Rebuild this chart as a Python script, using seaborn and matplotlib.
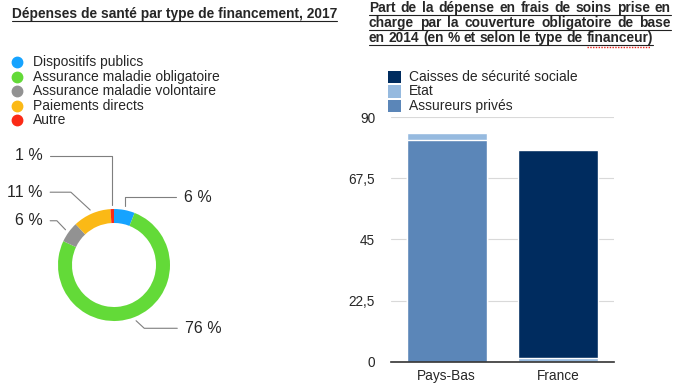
import numpy as np
import matplotlib
matplotlib.use("Agg")
import matplotlib.pyplot as plt
import seaborn as sns
from matplotlib.lines import Line2D
from matplotlib.patches import Rectangle

# --- data -------------------------------------------------------------
pie_labels = ["Dispositifs publics", "Assurance maladie obligatoire",
              "Assurance maladie volontaire", "Paiements directs", "Autre"]
pie_shares = [6, 76, 6, 11, 1]
pie_colors = ["#16A3FF", "#63DA38", "#929292", "#FBB916", "#FB2A16"]

countries = ["Pays-Bas", "France"]
financeurs = ["Caisses de sécurité sociale", "Etat", "Assureurs privés"]
caisses = [0.0, 76.5]
etat = [2.6, 1.5]
prives = [81.7, 0.0]
bar_colors = {"Caisses de sécurité sociale": "#002C5F",
              "Etat": "#96BADF",
              "Assureurs privés": "#5B86B8"}
yticks = [0, 22.5, 45, 67.5, 90]

W, H = 679, 386
sns.set_style("white")
plt.rcParams["font.family"] = ["Liberation Sans", "DejaVu Sans"]

fig = plt.figure(figsize=(W / 100, H / 100), dpi=100)


def fx(x):
    return x / W


def fy(y):
    return 1 - y / H


def underline(art, dy=2.5, **kw):
    fig.canvas.draw()
    bb = art.get_window_extent(fig.canvas.get_renderer())
    y = bb.y0 + 3 - dy
    fig.add_artist(Line2D([bb.x0 / W, bb.x1 / W], [y / H, y / H],
                          transform=fig.transFigure, **kw))


def justify(text, x0, x1, y, stretch=True, fontsize=10, **kw):
    words = text.split()
    arts = [fig.text(0, fy(y), w, fontsize=fontsize, **kw) for w in words]
    fig.canvas.draw()
    r = fig.canvas.get_renderer()
    widths = [a.get_window_extent(r).width for a in arts]
    sp = 0.278 * fontsize * 100 / 72
    gap = (x1 - x0 - sum(widths)) / (len(words) - 1) if stretch else sp
    x = x0
    for a, w in zip(arts, widths):
        a.set_x(fx(x))
        x += w + gap
    return arts, x - gap


# --- titles -------------------------------------------------------------
t1 = fig.text(fx(12), fy(18), "Dépenses de santé par type de financement, 2017",
              fontsize=9.9, fontweight="bold", va="baseline")
underline(t1, color="#222222", lw=0.8)

title_lines = ["Part de la dépense en frais de soins prise en",
               "charge par la couverture obligatoire de base",
               "en 2014 (en % et selon le type de financeur)"]
for i, line in enumerate(title_lines):
    yb = 12 + 15 * i
    arts, xend = justify(line, 369, 671, yb, stretch=(i < 2),
                         fontsize=9.9, fontweight="bold", va="baseline")
    yl = fy(yb + 2.5)
    fig.add_artist(Line2D([fx(369), fx(xend)], [yl, yl],
                          transform=fig.transFigure, color="#222222", lw=0.8))
    if i == 2:
        fig.canvas.draw()
        bb = arts[-1].get_window_extent(fig.canvas.get_renderer())
        ys = fy(yb + 4.5)
        fig.add_artist(Line2D([bb.x0 / W, bb.x1 / W - 0.004], [ys, ys],
                              transform=fig.transFigure, color="#E8231A",
                              lw=1.0, ls=(0, (1, 1))))

# --- left legend ------------------------------------------------------
for i, (lab, col) in enumerate(zip(pie_labels, pie_colors)):
    y = 62.3 + 14.4 * i
    fig.add_artist(Line2D([fx(17)], [fy(y)], marker="o", markersize=7.5,
                          color=col, transform=fig.transFigure))
    fig.text(fx(33), fy(y), lab, fontsize=10, va="center")

# --- donut ------------------------------------------------------------
cx, cy, rad = 114, 265, 56
axp = fig.add_axes([0, fy(370), fx(240), 230 / H])
wedges, _ = axp.pie(pie_shares, colors=pie_colors, startangle=90,
                    counterclock=False, radius=1,
                    wedgeprops=dict(width=0.25, edgecolor="none"))
axp.set_xlim(-cx / rad, (240 - cx) / rad)
axp.set_ylim(-(370 - cy) / rad, (cy - 140) / rad)
axp.set_aspect("equal")
axp.axis("off")

# label layout: (line y, elbow x or None for vertical, line end x, text x, ha)
layout = [(1.21, None, 1.11, 1.25, "left"),
          (-1.13, 0.54, 1.13, 1.27, "left"),
          (0.79, -1.02, -1.14, -1.27, "right"),
          (1.30, -0.77, -1.14, -1.27, "right"),
          (1.95, None, -1.14, -1.27, "right")]
for w, share, (ly, ex, endx, tx, ha) in zip(wedges, pie_shares, layout):
    ang = np.deg2rad((w.theta1 + w.theta2) / 2)
    ax_, ay_ = 1.07 * np.cos(ang), 1.07 * np.sin(ang)
    if ex is None:
        ex = ax_
    axp.plot([ax_, ex, endx], [ay_, ly, ly], color="#7F7F7F", lw=0.8,
             clip_on=False)
    axp.text(tx, ly, f"{share} %", ha=ha, va="center", fontsize=11.5)

# --- right legend -----------------------------------------------------
for i, name in enumerate(financeurs):
    y = 76.7 + 14.6 * i
    fig.add_artist(Rectangle((fx(388), fy(y + 6.2)), 12.5 / W, 12.4 / H,
                             transform=fig.transFigure,
                             facecolor=bar_colors[name], edgecolor="none"))
    fig.text(fx(409), fy(y), name, fontsize=10, va="center")

# --- stacked bars -----------------------------------------------------
axb = fig.add_axes([fx(391), fy(361.7), 223 / W, 244.4 / H])
cum_prives = np.array(prives)
cum_etat = cum_prives + np.array(etat)
cum_all = cum_etat + np.array(caisses)
for vals, name in [(cum_all, "Caisses de sécurité sociale"),
                   (cum_etat, "Etat"),
                   (cum_prives, "Assureurs privés")]:
    sns.barplot(x=countries, y=vals, color=bar_colors[name], saturation=1,
                width=0.715, ax=axb, zorder=3)
axb.set_xlim(-0.5, 1.5)
axb.set_ylim(0, 90)
axb.set_yticks(yticks)
axb.set_yticklabels([f"{v:g}".replace(".", ",") for v in yticks])
axb.grid(axis="y", color="#D9D9D9", lw=0.8)
axb.set_axisbelow(True)
for s in ["top", "right", "left"]:
    axb.spines[s].set_visible(False)
axb.spines["bottom"].set_color("#333333")
axb.spines["bottom"].set_linewidth(1.2)
axb.spines["bottom"].set_zorder(5)
axb.tick_params(axis="both", length=0, labelsize=9.8)
axb.tick_params(axis="y", pad=11.5)
axb.tick_params(axis="x", pad=5)
axb.set_xlabel("")
axb.set_ylabel("")

fig.savefig("out.png", dpi=100)
